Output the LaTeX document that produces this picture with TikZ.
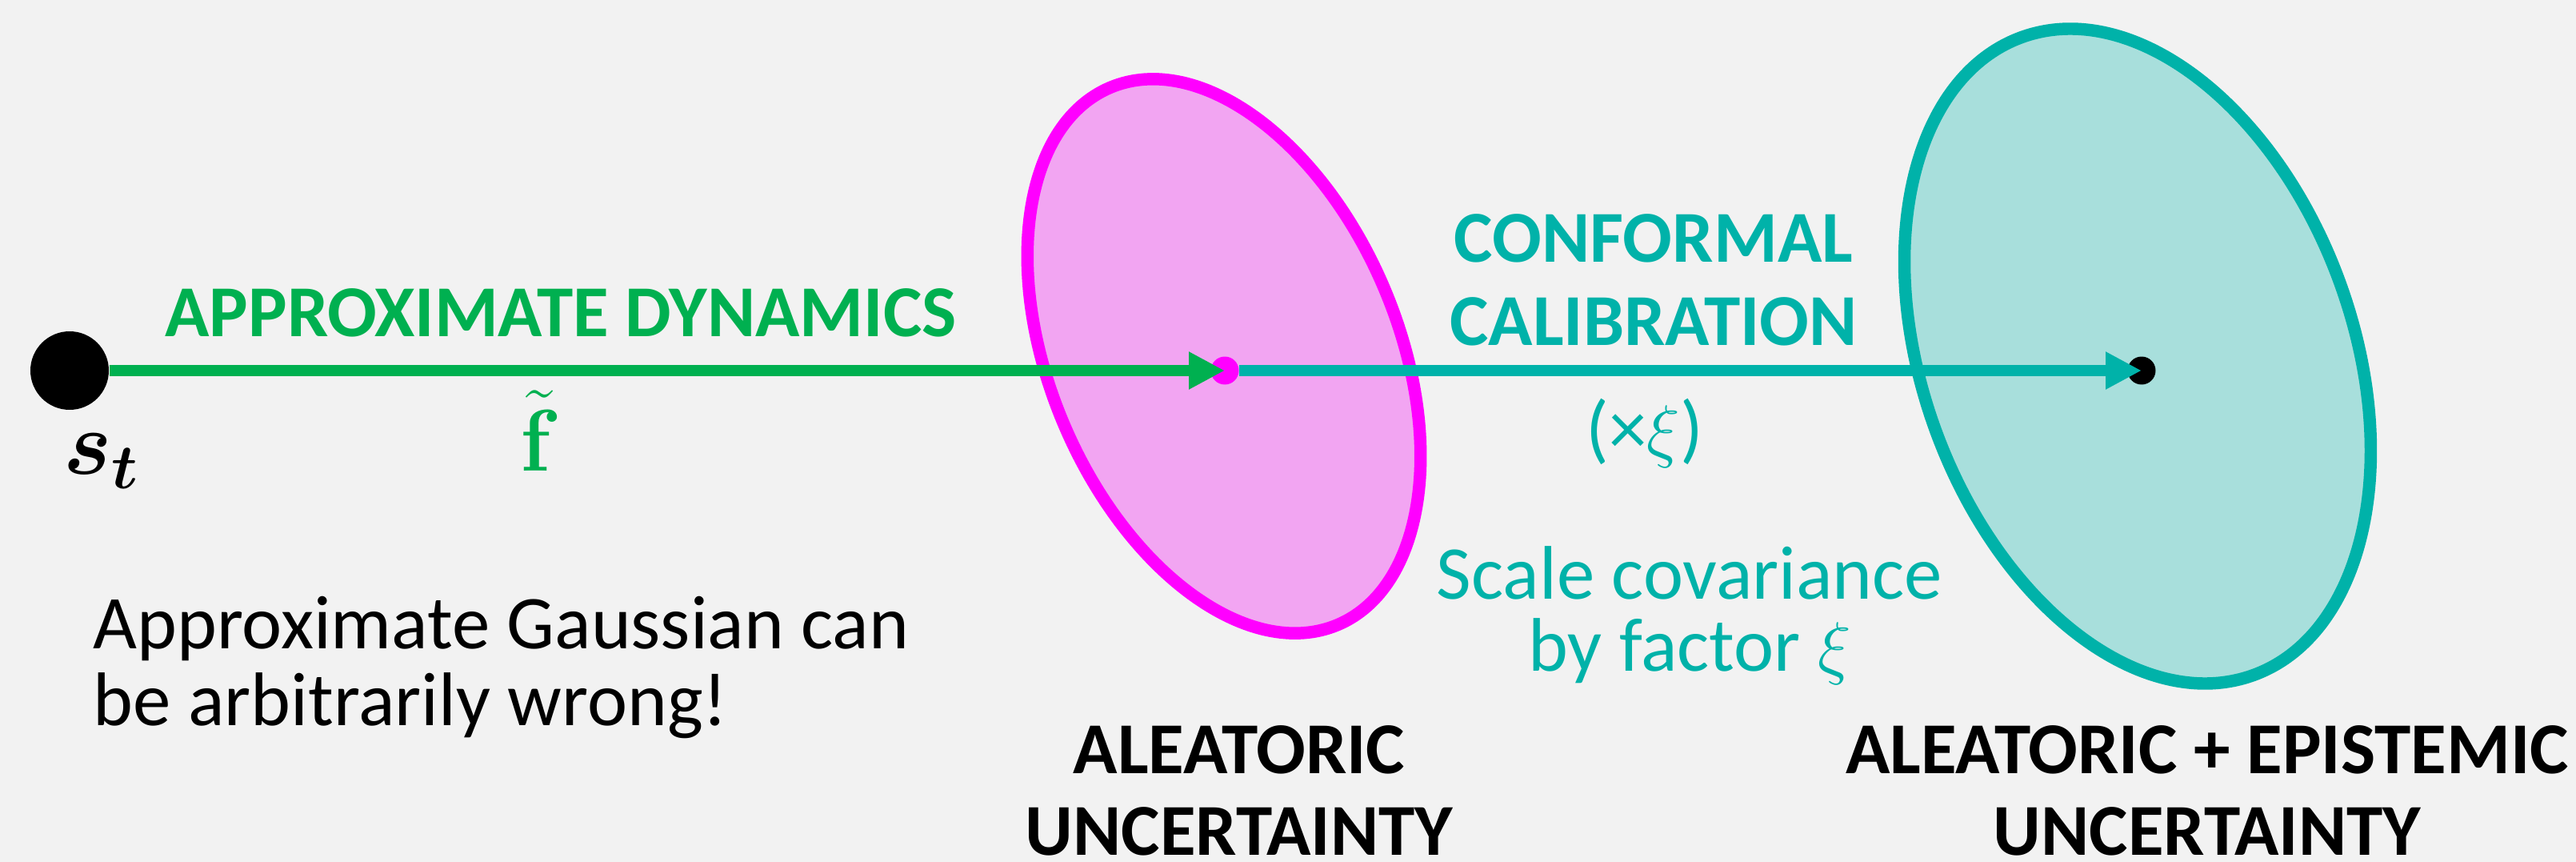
\documentclass[tikz,border=0pt]{standalone}
\usepackage{amsmath,amssymb,graphicx}
\usepackage[no-math]{fontspec}
\setmainfont{Carlito}
\usetikzlibrary{arrows.meta,positioning,backgrounds,shapes.geometric}
\definecolor{dyngreen}{HTML}{00B050}
\definecolor{calteal}{HTML}{00B2A9}
\definecolor{calfill}{HTML}{A8DFDC}
\definecolor{alemag}{HTML}{FF00FF}
\definecolor{alefill}{HTML}{F2A5F2}
\definecolor{bggray}{HTML}{F2F2F2}
\tikzset{
  >={Triangle[length=4.5mm,width=4.4mm]},
  % text
  lbl/.style={font=\fontsize{27}{29}\selectfont,inner sep=0pt},
  hd/.style={font=\fontsize{26}{29}\selectfont\bfseries,inner sep=0pt,align=center},
  sym/.style={font=\fontsize{25}{25}\selectfont,inner sep=0pt},
  % punkter och ellipser
  dot/.style={circle,fill=black,inner sep=0pt,minimum size=3.5mm},
  cov/.style={ellipse,line width=4.4pt,inner sep=0pt},
  ale/.style={cov,draw=alemag,fill=alefill},
  epi/.style={cov,draw=calteal,fill=calfill},
  flow/.style={->,line width=4pt},
}
\begin{document}
\begin{tikzpicture}
\useasboundingbox (0,0) rectangle (32.2,-10.77);
\begin{scope}[on background layer]
  \fill[bggray] (0,0) rectangle (32.2,-10.77);
  \node[ale,minimum width=4.35cm,minimum height=7.29cm,rotate=23] (aleell) at (15.30,-4.45) {};
  \node[epi,minimum width=5.38cm,minimum height=8.48cm,rotate=20] (epiell) at (26.72,-4.45) {};
\end{scope}
  \node[dot,minimum size=9.8mm] (st) at (0.87,-4.63) {};
  \node[dot,fill=alemag] (mu) at (15.31,-4.63) {};
  \node[dot] (pred) at (26.77,-4.63) {};
  \draw[flow,dyngreen] (st) -- (mu.center);
  \draw[flow,calteal] (mu) -- (pred.center);
  % etiketter
  \node[hd,text=dyngreen,anchor=base] (dynlbl) at (7.01,-4.21) {APPROXIMATE DYNAMICS};
  \node[sym,text=dyngreen,anchor=base] (ftil) at (6.75,-5.88) {\scalebox{1.25}{$\tilde{\mathbf{f}}$}};
  \node[sym,anchor=base] (stlbl) at (1.27,-5.93) {\scalebox{1.3}{$\boldsymbol{s_t}$}};
  \node[hd,text=calteal,anchor=base,font=\fontsize{26}{29.5}\selectfont\bfseries] (callbl) at (20.67,-4.31) {CONFORMAL\\CALIBRATION};
  \node[lbl,text=calteal] (xilbl) at (20.56,-5.41) {(×$\xi$)};
  \node[lbl,text=calteal,align=center,anchor=base,font=\fontsize{27}{25.6}\selectfont] (scalelbl) at (21.12,-8.38) {Scale covariance\\by factor $\xi$};
  \node[lbl,align=left,anchor=base west,font=\fontsize{27}{27.3}\selectfont] (warnlbl) at (1.16,-9.06) {Approximate Gaussian can\\be arbitrarily wrong!};
  \node[hd,anchor=base] (alelbl) at (15.49,-10.68) {ALEATORIC\\UNCERTAINTY};
  \node[hd,anchor=base] (epilbl) at (27.59,-10.68) {ALEATORIC + EPISTEMIC\\UNCERTAINTY};
\end{tikzpicture}
\end{document}
